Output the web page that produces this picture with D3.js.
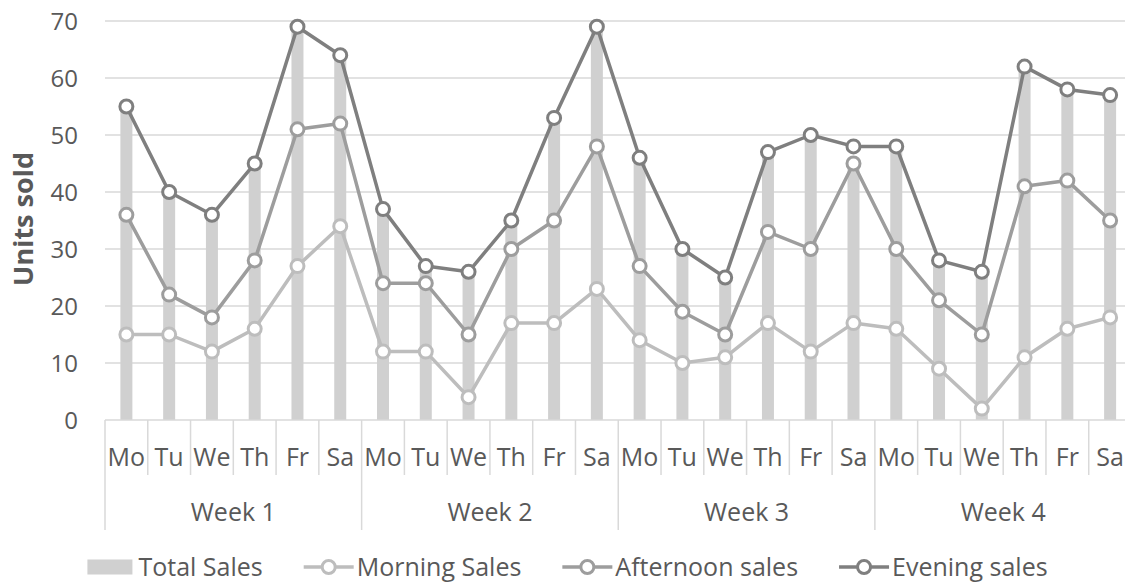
<!DOCTYPE html>
<html>
<head>
<meta charset="utf-8">
<script src="https://cdn.jsdelivr.net/npm/d3@7"></script>
<style>
  body { margin: 0; background: #fff; }
  text { font-family: "Open Sans", "Noto Sans", sans-serif; fill: #595959; }
</style>
</head>
<body>
<svg id="chart" width="1125" height="583"></svg>
<script>
const days = ["Mo", "Tu", "We", "Th", "Fr", "Sa"];
const weeks = ["Week 1", "Week 2", "Week 3", "Week 4"];
const yTicks = [0, 10, 20, 30, 40, 50, 60, 70];

const totalSales = [55, 40, 36, 45, 69, 64, 37, 27, 26, 35, 53, 69, 46, 30, 25, 47, 50, 45, 48, 28, 26, 62, 58, 57];
const morningSales = [15, 15, 12, 16, 27, 34, 12, 12, 4, 17, 17, 23, 14, 10, 11, 17, 12, 17, 16, 9, 2, 11, 16, 18];
const afternoonSales = [36, 22, 18, 28, 51, 52, 24, 24, 15, 30, 35, 48, 27, 19, 15, 33, 30, 45, 30, 21, 15, 41, 42, 35];
const eveningSales = [55, 40, 36, 45, 69, 64, 37, 27, 26, 35, 53, 69, 46, 30, 25, 47, 50, 48, 48, 28, 26, 62, 58, 57];

const lineSeries = [
  {name: "Morning Sales", values: morningSales, color: "#bdbdbd"},
  {name: "Afternoon sales", values: afternoonSales, color: "#9d9d9d"},
  {name: "Evening sales", values: eveningSales, color: "#7f7f7f"}
];

const svg = d3.select("#chart");
const plotL = 105, plotR = 1131.5, plotT = 21, plotB = 420;
const gridColor = "#d9d9d9";

// one slot per day across the four weeks
const idx = d3.range(weeks.length * days.length);
const x = d3.scaleBand().domain(idx).range([plotL, plotR]).padding(0);
const y = d3.scaleLinear().domain([0, 70]).range([plotB, plotT]);
const cx = i => x(i) + x.bandwidth() / 2;

// gridlines
svg.append("g").selectAll("line")
  .data(yTicks.filter(t => t > 0))
  .join("line")
  .attr("x1", plotL).attr("x2", plotR)
  .attr("y1", d => y(d)).attr("y2", d => y(d))
  .attr("stroke", gridColor).attr("stroke-width", 1.5);

// y tick labels
svg.append("g").selectAll("text")
  .data(yTicks)
  .join("text")
  .attr("x", 78)
  .attr("y", d => y(d))
  .attr("dy", "0.36em")
  .attr("text-anchor", "end")
  .style("font-size", "24px")
  .text(d => d);

// y title
svg.append("text")
  .attr("transform", "translate(33,219) rotate(-90)")
  .attr("text-anchor", "middle")
  .style("font-size", "27px")
  .style("font-weight", "bold")
  .text("Units sold");

// total bars
svg.append("g").selectAll("rect")
  .data(totalSales)
  .join("rect")
  .attr("x", (d, i) => cx(i) - 6)
  .attr("width", 12)
  .attr("y", d => y(d))
  .attr("height", d => plotB - y(d))
  .attr("fill", "#d0d0d0");

// x axis: baseline, separators, labels
const xa = svg.append("g");
xa.append("line")
  .attr("x1", plotL).attr("x2", plotR)
  .attr("y1", plotB).attr("y2", plotB)
  .attr("stroke", gridColor).attr("stroke-width", 1.5);
xa.selectAll("line.sep")
  .data(d3.range(idx.length + 1))
  .join("line")
  .attr("class", "sep")
  .attr("x1", i => i < idx.length ? x(i) : plotR)
  .attr("x2", i => i < idx.length ? x(i) : plotR)
  .attr("y1", plotB)
  .attr("y2", i => i % days.length === 0 ? 530 : 475)
  .attr("stroke", gridColor).attr("stroke-width", 1.5);
xa.selectAll("text.day")
  .data(idx)
  .join("text")
  .attr("class", "day")
  .attr("x", i => cx(i))
  .attr("y", 466)
  .attr("text-anchor", "middle")
  .style("font-size", "25px")
  .text(i => days[i % days.length]);
xa.selectAll("text.week")
  .data(weeks)
  .join("text")
  .attr("class", "week")
  .attr("x", (d, w) => (x(w * days.length) + x(w * days.length + days.length - 1) + x.bandwidth()) / 2)
  .attr("y", 521)
  .attr("text-anchor", "middle")
  .style("font-size", "25px")
  .text(d => d);

// lines with hollow markers
const line = d3.line().x((d, i) => cx(i)).y(d => y(d));
lineSeries.forEach(s => {
  const g = svg.append("g");
  g.append("path")
    .datum(s.values)
    .attr("d", line)
    .attr("fill", "none")
    .attr("stroke", s.color)
    .attr("stroke-width", 3.5)
    .attr("stroke-linejoin", "round");
  g.selectAll("circle")
    .data(s.values)
    .join("circle")
    .attr("cx", (d, i) => cx(i))
    .attr("cy", d => y(d))
    .attr("r", 6.5)
    .attr("fill", "#fff")
    .attr("stroke", s.color)
    .attr("stroke-width", 3);
});

// legend
const legend = svg.append("g");
const legendItems = [{name: "Total Sales", bar: true}].concat(lineSeries);
let lx = 0;
const ly = 567;
legendItems.forEach(it => {
  const g = legend.append("g").attr("transform", `translate(${lx},0)`);
  if (it.bar) {
    g.append("rect").attr("x", 0).attr("y", ly - 7.5).attr("width", 45).attr("height", 15).attr("fill", "#d0d0d0");
  } else {
    g.append("line").attr("x1", 0).attr("x2", 50).attr("y1", ly).attr("y2", ly)
      .attr("stroke", it.color).attr("stroke-width", 3.5);
    g.append("circle").attr("cx", 25).attr("cy", ly).attr("r", 6.5)
      .attr("fill", "#fff").attr("stroke", it.color).attr("stroke-width", 3);
  }
  const t = g.append("text")
    .attr("x", it.bar ? 51 : 53)
    .attr("y", ly + 9)
    .style("font-size", "25px")
    .text(it.name);
  lx += (it.bar ? 51 : 53) + t.node().getComputedTextLength() + 41;
});
const legendW = lx - 41;
legend.attr("transform", `translate(${567.5 - legendW / 2},0)`);
</script>
</body>
</html>
